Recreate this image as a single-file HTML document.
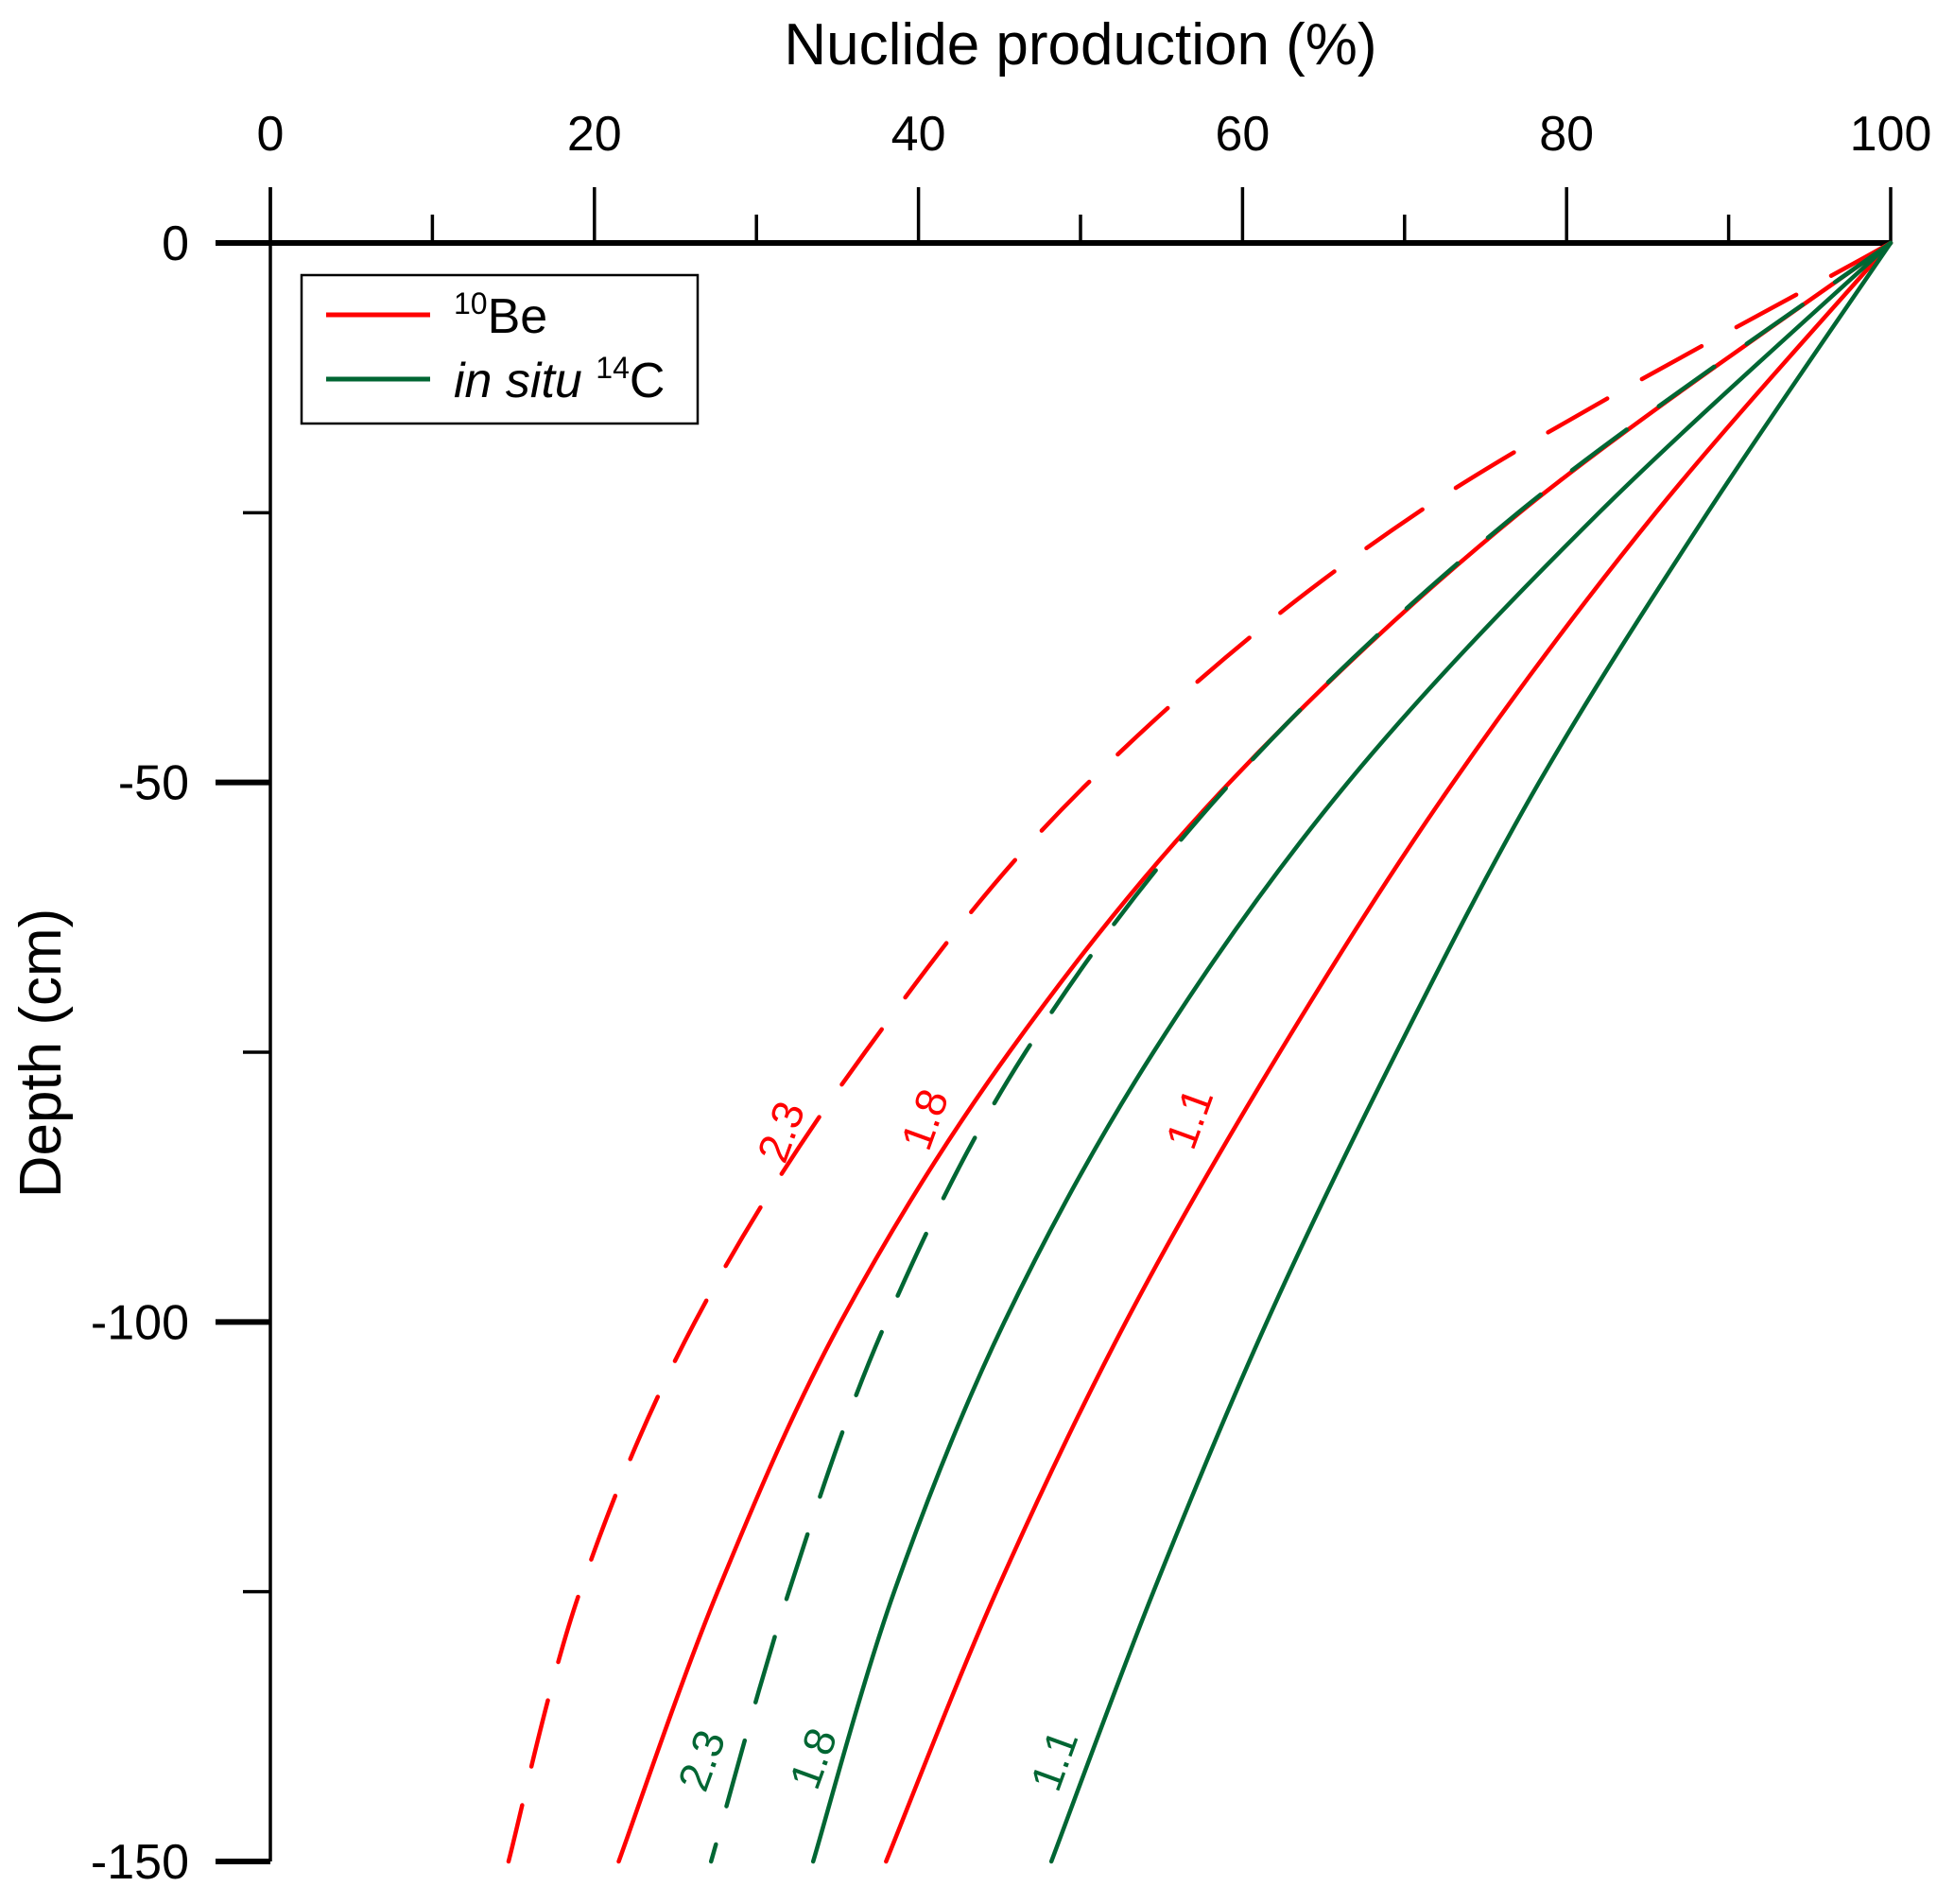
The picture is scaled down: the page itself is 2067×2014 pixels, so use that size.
<!DOCTYPE html>
<html><head><meta charset="utf-8"><style>
html,body{margin:0;padding:0;background:#fff}
svg{display:block;font-family:"Liberation Sans",Arial,sans-serif}
</style></head><body>
<svg id="chart" width="2067" height="2014" viewBox="0 0 2067 2014">
<text x="1143" y="68" font-size="62" text-anchor="middle">Nuclide production (%)</text>
<text transform="translate(64,1114) rotate(-90)" font-size="62" text-anchor="middle">Depth (cm)</text>
<g id="axes"></g>
<g id="series"></g>
<g id="labels"></g>
<g>
<rect x="319" y="291" width="419" height="157" fill="#fff" stroke="#000" stroke-width="2.5"/>
<line x1="345" y1="333" x2="455" y2="333" stroke="#ff0000" stroke-width="5"/>
<text x="480" y="352" font-size="52"><tspan font-size="32" dy="-20">10</tspan><tspan dy="20">Be</tspan></text>
<line x1="345" y1="401" x2="455" y2="401" stroke="#006633" stroke-width="5"/>
<text x="480" y="420" font-size="52"><tspan font-style="italic">in situ </tspan><tspan font-size="32" dy="-20">14</tspan><tspan dy="20">C</tspan></text>
</g>
</svg>
<script>
const depths = [0, 25, 50, 75, 100, 125, 150];
const beDensity23 = [100, 70.8, 50.5, 36.7, 26.2, 19.1, 14.7];
const beDensity18 = [100, 77.1, 59.2, 45.6, 35.2, 27.6, 21.5];
const beDensity11 = [100, 85.5, 73, 62.3, 52.8, 44.8, 38];
const cDensity23 = [100, 77, 59.3, 46.6, 38, 32, 27.2];
const cDensity18 = [100, 82, 66.5, 54.5, 45.3, 38.5, 33.5];
const cDensity11 = [100, 88.7, 78.3, 69.5, 61.5, 54.5, 48.2];
const xTicks = [0, 20, 40, 60, 80, 100];
const yTicks = [0, -50, -100, -150];

const NS = 'http://www.w3.org/2000/svg';
const X0 = 286, X1 = 2000, Y0 = 257, Y1 = 1969;
function xs(v){ return X0 + v/100*(X1-X0); }
function ys(d){ return Y0 + d/150*(Y1-Y0); }
function mk(tag, attrs, parent){ const e=document.createElementNS(NS,tag); for(const k in attrs) e.setAttribute(k,attrs[k]); parent.appendChild(e); return e; }

const axes = document.getElementById('axes');
let l = mk('line',{x1:228,y1:Y0,x2:X1,y2:Y0,stroke:'#000','stroke-width':6},axes);


l = mk('line',{x1:X0,y1:198,x2:X0,y2:Y1,stroke:'#000','stroke-width':3.5},axes);


for(let v=0; v<=100; v+=10){
  const major = v%20===0;
  const t = mk('line',{x1:xs(v),y1:Y0,x2:xs(v),y2:major?198:227,stroke:'#000','stroke-width':3.5},axes);
  
  
}
xTicks.forEach(v=>{
  const t = mk('text',{x:xs(v),y:159,'font-size':52,'text-anchor':'middle'},axes);
  t.textContent = v;
  
  
});
for(let d=0; d<=150; d+=25){
  const major = d%50===0;
  const t = mk('line',{x1:major?228:257,y1:ys(d),x2:X0,y2:ys(d),stroke:'#000','stroke-width':major?6:3.5},axes);
  
  
}
yTicks.forEach(v=>{
  const t = mk('text',{x:200,y:ys(-v)+18,'font-size':52,'text-anchor':'end'},axes);
  t.textContent = v;
  
  
});

function pathFor(vals){
  const p = vals.map((v,i)=>[xs(v), ys(depths[i])]);
  let d = 'M'+p[0][0]+','+p[0][1];
  for(let i=0;i<p.length-1;i++){
    const p0=p[Math.max(0,i-1)], p1=p[i], p2=p[i+1], p3=p[Math.min(p.length-1,i+2)];
    const c1=[p1[0]+(p2[0]-p0[0])/6, p1[1]+(p2[1]-p0[1])/6];
    const c2=[p2[0]-(p3[0]-p1[0])/6, p2[1]-(p3[1]-p1[1])/6];
    d += ' C'+c1[0]+','+c1[1]+' '+c2[0]+','+c2[1]+' '+p2[0]+','+p2[1];
  }
  return d;
}
const RED='#ff0000', GREEN='#006633';
const series = document.getElementById('series');
[[beDensity23,RED,true,'be10-density-2-3'],[beDensity18,RED,false,'be10-density-1-8'],[beDensity11,RED,false,'be10-density-1-1'],
 [cDensity23,GREEN,true,'c14-density-2-3'],[cDensity18,GREEN,false,'c14-density-1-8'],[cDensity11,GREEN,false,'c14-density-1-1']].forEach(s=>{
  const a = {d:pathFor(s[0]),fill:'none',stroke:s[1],'stroke-width':4.5,'stroke-linecap':'round'};
  if(s[2]) a['stroke-dasharray']='72 42';
  const e = mk('path',a,series);
  
  
});

const labels = document.getElementById('labels');
[['2.3',826,1197,RED],['1.8',978,1184,RED],['1.1',1258,1183,RED],
 ['2.3',742,1862,GREEN],['1.8',860,1860,GREEN],['1.1',1115,1862,GREEN]].forEach(s=>{
  const t = mk('text',{transform:'translate('+s[1]+','+s[2]+') rotate(-70)','font-size':46,fill:s[3],'text-anchor':'middle','dominant-baseline':'central'},labels);
  t.textContent = s[0];
  
  
});
</script>
</body></html>
